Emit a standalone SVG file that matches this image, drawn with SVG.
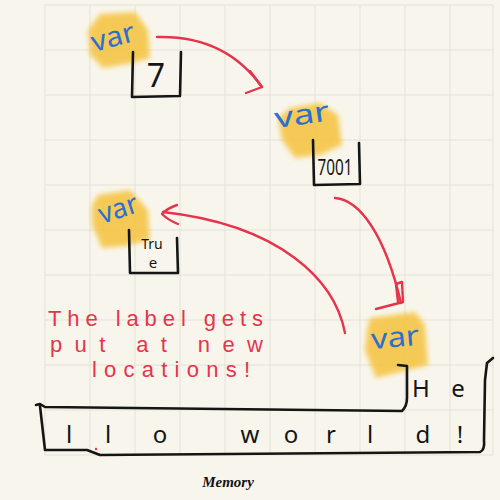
<svg xmlns="http://www.w3.org/2000/svg" width="500" height="500" viewBox="0 0 500 500">
<defs>
<filter id="soft" x="-20%" y="-20%" width="140%" height="140%"><feGaussianBlur stdDeviation="2.5"/></filter>
<style>
.grid{stroke:#e2e0d8;stroke-width:1;fill:none}
.hl{fill:#f5c23c;opacity:0.85;filter:url(#soft)}
.var{font-family:"Noto Sans",sans-serif;font-size:28px;fill:#2b6fd1}
.ink{stroke:#151515;stroke-width:2.6;fill:none;stroke-linecap:round;stroke-linejoin:round}
.red{stroke:#e5344b;stroke-width:2.4;fill:none;stroke-linecap:round;stroke-linejoin:round}
.val{font-family:"Noto Sans",sans-serif;fill:#151515;text-anchor:middle}
.note{font-family:"Liberation Sans",sans-serif;font-size:22px;fill:#e5344b}
.mem{font-family:"Noto Sans",sans-serif;font-size:24px;fill:#151515;text-anchor:middle}
.cap{font-family:"Liberation Serif",serif;font-style:italic;font-weight:bold;font-size:15px;fill:#111;text-anchor:middle}
</style>
</defs>
<rect width="500" height="500" fill="#f8f6ec"/>
<path class="grid" d="M45,5V455M90,5V455M135,5V455M180,5V455M225,5V455M270,5V455M315,5V455M360,5V455M405,5V455M450,5V455M493,5V455M45,5H493M45,50H493M45,95H493M45,140H493M45,185H493M45,230H493M45,275H493M45,320H493M45,365H493M45,410H493M45,455H493"/>

<g id="var1">
<path class="hl" d="M100,14 L135,12 L148,30 L150,58 L128,64 L103,68 L90,55 L88,30 Z"/>
<text class="var" x="94" y="52" transform="rotate(-15 94 52)" textLength="44" lengthAdjust="spacingAndGlyphs">var</text>
<path class="ink" d="M133,52 L132,97 L180,96 L181,52"/>
<text class="val" x="156" y="87" font-size="32">7</text>
</g>

<g id="var2">
<path class="hl" d="M290,108 L320,103 L338,115 L342,145 L320,155 L295,158 L282,140 L278,118 Z"/>
<text class="var" x="276" y="128" transform="rotate(-8 276 128)" textLength="55" lengthAdjust="spacingAndGlyphs">var</text>
<path class="ink" d="M313,140 L314,185 L360,184 L359,143"/>
<text class="val" x="335" y="175" font-size="21" textLength="35" lengthAdjust="spacingAndGlyphs">7001</text>
</g>

<g id="var3">
<path class="hl" d="M98,195 L130,190 L148,210 L150,240 L125,246 L102,248 L92,225 L92,205 Z"/>
<text class="var" x="102" y="224" transform="rotate(-18 102 224)" textLength="40" lengthAdjust="spacingAndGlyphs">var</text>
<path class="ink" d="M129,230 L130,273 L178,273 L177,238"/>
<text class="val" x="152" y="249" font-size="14" font-family="Liberation Sans">Tru</text>
<text class="val" x="153" y="268" font-size="15" font-family="Liberation Sans">e</text>
</g>

<g id="var4">
<path class="hl" d="M370,318 L415,312 L425,325 L428,365 L400,372 L376,378 L365,350 L367,330 Z"/>
<text class="var" x="372" y="349" transform="rotate(-5 372 349)" textLength="48" lengthAdjust="spacingAndGlyphs">var</text>
</g>

<g id="note">
<text class="note" x="48" y="326" textLength="215" lengthAdjust="spacing">The label gets</text>
<text class="note" x="50" y="352" textLength="213" lengthAdjust="spacing">put at new</text>
<text class="note" x="92" y="377" textLength="158" lengthAdjust="spacing">locations!</text>
</g>

<g id="connectors">
<path class="red" d="M157,37 Q225,35 262,87"/>
<path class="red" d="M250,71 L262,87 L246,93"/>
<path class="red" d="M335,198 C360,200 385,235 401,303"/>
<path class="red" d="M396,284 L402,282 L403,302 L376,309 M396,284 L398,302"/>
<path class="red" d="M345,333 C335,280 280,225 163,212"/>
<path class="red" d="M177,205 Q166,209 162,214 Q168,220 178,224"/>
</g>

<g id="memory">
<path class="ink" d="M36,405 L40,404 L45,407 L402,411 Q407,406 407,398 L407,366 L398,365"/>
<path class="ink" d="M40,406 L45,450 L87,450 L100,455 L480,452 Q485,450 484,440 L485,380 L487,363 L493,358"/>
<text class="mem" x="421 458" y="397">He</text>
<text class="mem" x="69 108 160 205 250 291 331 370 423 460" y="443">llo world!</text>
<circle cx="96" cy="449" r="1.2" fill="#e5344b"/>
</g>

<text class="cap" x="228" y="487">Memory</text>
</svg>
